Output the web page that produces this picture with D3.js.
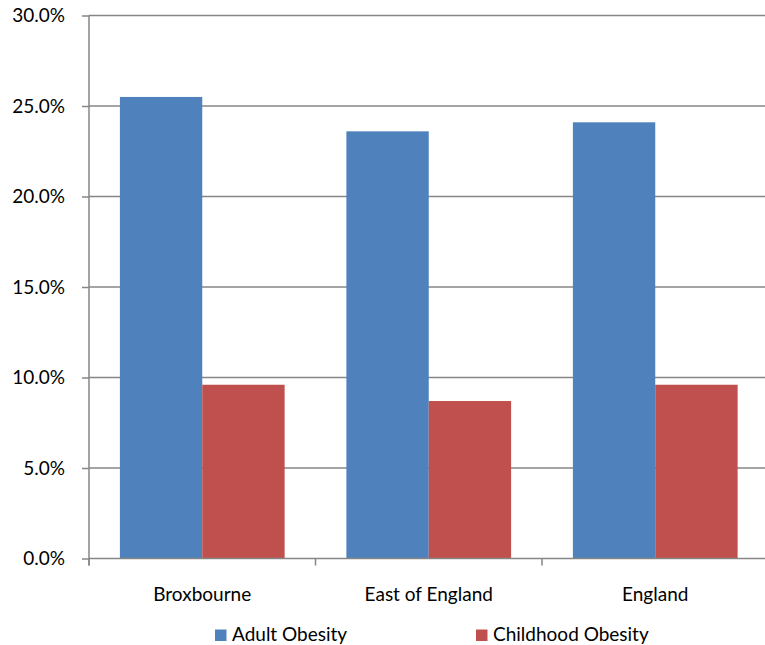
<!DOCTYPE html>
<html>
<head>
<meta charset="utf-8">
<script src="https://cdn.jsdelivr.net/npm/d3@7/dist/d3.min.js"></script>
<style>
  body { margin: 0; background: #fff; }
  text { font-family: Lato, 'Open Sans', sans-serif; fill: #000; }
</style>
</head>
<body>
<div id="chart"></div>
<script>
const areas = ['Broxbourne', 'East of England', 'England'];
const series_names = ['Adult Obesity', 'Childhood Obesity'];
const adult_obesity = [25.5, 23.6, 24.1];
const childhood_obesity = [9.6, 8.7, 9.6];
const y_ticks = [0, 5, 10, 15, 20, 25, 30];

const series_colors = ['#4F81BD', '#C0504D'];
const axis_color = '#868686';
const font_size = '19px';

const width = 765, height = 645;

const x = d3.scaleBand().range([89, 768.5]).domain(areas);
const x_inner = d3.scaleBand().domain(series_names)
  .range([0, x.bandwidth()]).paddingOuter(0.375).paddingInner(0);
const y = d3.scaleLinear().range([558.5, 15.5]).domain([0, 30]);

const rows = areas.map((a, i) => ({area: a, values: [adult_obesity[i], childhood_obesity[i]]}));

const svg = d3.select('#chart').append('svg')
  .attr('width', width)
  .attr('height', height);

// gridlines
svg.append('g')
  .selectAll('line')
  .data(y_ticks.filter(t => t > 0))
  .enter()
  .append('line')
    .attr('x1', x.range()[0])
    .attr('x2', x.range()[1])
    .attr('y1', d => y(d))
    .attr('y2', d => y(d))
    .style('stroke', axis_color)
    .style('stroke-width', 1.5);

// bars
const groups = svg.selectAll('.bar_group')
  .data(rows)
  .enter()
  .append('g')
    .attr('class', 'bar_group')
    .attr('transform', d => 'translate(' + x(d.area) + ',0)');

groups.selectAll('rect')
  .data(d => d.values.map((v, i) => ({name: series_names[i], value: v, color: series_colors[i]})))
  .enter()
  .append('rect')
    .attr('x', d => x_inner(d.name))
    .attr('width', x_inner.bandwidth())
    .attr('y', d => y(d.value))
    .attr('height', d => y(0) - y(d.value))
    .attr('fill', d => d.color);

// y axis
const y_ax = d3.axisLeft(y).tickValues(y_ticks).tickSize(7)
  .tickFormat(d => d3.format('.1f')(d) + '%');
const gy = svg.append('g')
  .attr('transform', 'translate(' + x.range()[0] + ',0)')
  .call(y_ax);
gy.select('.domain').remove();
gy.append('line')
  .attr('x1', 0).attr('x2', 0)
  .attr('y1', y.range()[1]).attr('y2', y.range()[0] + 7)
  .style('stroke', axis_color).style('stroke-width', 1.5);
gy.selectAll('.tick line').style('stroke', axis_color).style('stroke-width', 1.5);
gy.selectAll('.tick text')
  .attr('x', -24)
  .style('font-size', font_size)
  .style('font-family', 'Lato, sans-serif')
  .attr('fill', '#000');

// x axis
const gx = svg.append('g')
  .attr('transform', 'translate(0,' + y(0) + ')');
gx.append('line')
  .attr('x1', x.range()[0]).attr('x2', x.range()[1])
  .style('stroke', axis_color).style('stroke-width', 1.5);
gx.selectAll('.cat_tick')
  .data(areas.map(a => x(a)).concat([x.range()[1]]))
  .enter()
  .append('line')
    .attr('class', 'cat_tick')
    .attr('x1', d => d).attr('x2', d => d)
    .attr('y1', 0).attr('y2', 7)
    .style('stroke', axis_color).style('stroke-width', 1.5);
gx.selectAll('.cat_label')
  .data(areas)
  .enter()
  .append('text')
    .attr('class', 'cat_label')
    .attr('x', d => x(d) + x.bandwidth() / 2)
    .attr('y', 42)
    .attr('text-anchor', 'middle')
    .style('font-size', font_size)
    .text(d => d);

// legend
const legend_x = [215, 476];
const legend = svg.selectAll('.legend_item')
  .data(series_names)
  .enter()
  .append('g')
    .attr('class', 'legend_item')
    .attr('transform', (d, i) => 'translate(' + legend_x[i] + ',629.5)');
legend.append('rect')
  .attr('width', 11.5).attr('height', 11.5)
  .attr('fill', (d, i) => series_colors[i]);
legend.append('text')
  .attr('x', 17)
  .attr('y', 11)
  .style('font-size', font_size)
  .text(d => d);
</script>
</body>
</html>
